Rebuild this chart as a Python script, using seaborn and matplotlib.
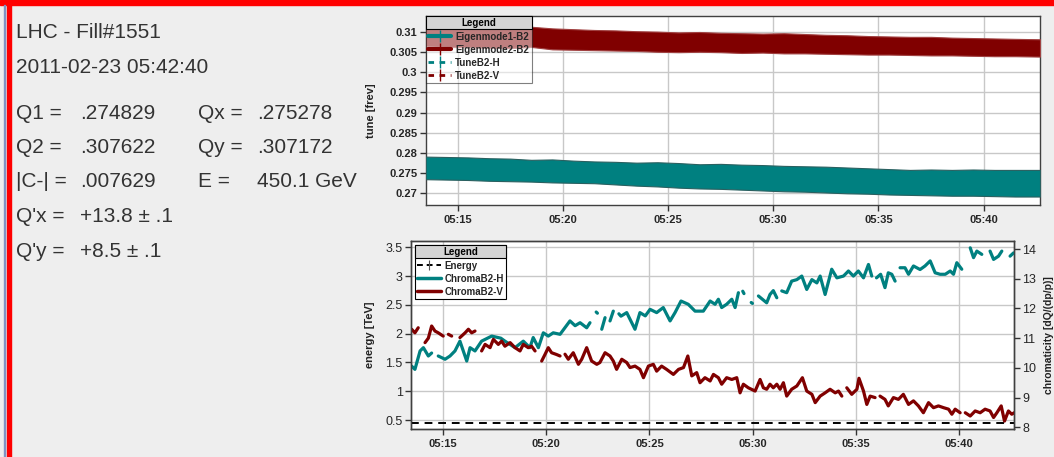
import numpy as np
import pandas as pd
import matplotlib
matplotlib.use("Agg")
import matplotlib.pyplot as plt
import matplotlib.dates as mdates
from matplotlib.lines import Line2D
from matplotlib.patches import Rectangle
import seaborn as sns

# ---------------- data ----------------
info_left = ["Q1 =", "Q2 =", "|C-| =", "Q'x =", "Q'y ="]
info_left_values = [".274829", ".307622", ".007629", "+13.8 \u00b1 .1", "+8.5 \u00b1 .1"]
info_right = ["Qx =", "Qy =", "E ="]
info_right_values = [".275278", ".307172", "450.1 GeV"]
title_lines = ["LHC - Fill#1551", "2011-02-23 05:42:40"]

# tune band envelopes (minutes after 05:00)
band_t = [13.48, 14.5, 15.5, 16.5, 17.5, 18.5, 19.5, 20.5, 21.5, 22.5, 23.5, 24.5, 25.5, 26.5, 27.5,
          28.5, 29.5, 30.5, 31.5, 32.5, 33.5, 34.5, 35.5, 36.5, 37.5, 38.5, 39.5, 40.5, 41.5, 42.68]
tune_v_top = [0.3117, 0.3116, 0.3114, 0.3115, 0.3112, 0.3113, 0.3109, 0.3107, 0.3105, 0.3104, 0.3102,
              0.3101, 0.3099, 0.3100, 0.3098, 0.3097, 0.3096, 0.3097, 0.3095, 0.3093, 0.3092, 0.3090,
              0.3089, 0.3088, 0.3088, 0.3086, 0.3085, 0.3084, 0.3083, 0.3082]
tune_v_bot = [0.3065, 0.3063, 0.3062, 0.3061, 0.3060, 0.3063, 0.3057, 0.3056, 0.3055, 0.3054, 0.3053,
              0.3051, 0.3050, 0.3051, 0.3050, 0.3048, 0.3049, 0.3047, 0.3047, 0.3046, 0.3045, 0.3044,
              0.3044, 0.3043, 0.3042, 0.3042, 0.3041, 0.3040, 0.3040, 0.3039]
tune_h_top = [0.2791, 0.2790, 0.2789, 0.2787, 0.2786, 0.2783, 0.2784, 0.2781, 0.2779, 0.2778, 0.2776,
              0.2777, 0.2775, 0.2772, 0.2773, 0.2771, 0.2770, 0.2768, 0.2767, 0.2766, 0.2764, 0.2762,
              0.2760, 0.2758, 0.2759, 0.2758, 0.2759, 0.2758, 0.2758, 0.2758]
tune_h_bot = [0.2735, 0.2734, 0.2733, 0.2731, 0.2730, 0.2729, 0.2727, 0.2726, 0.2725, 0.2722, 0.2719,
              0.2717, 0.2714, 0.2712, 0.2711, 0.2709, 0.2707, 0.2705, 0.2704, 0.2702, 0.2700, 0.2699,
              0.2697, 0.2696, 0.2695, 0.2694, 0.2694, 0.2693, 0.2692, 0.2692]

nan = np.nan
chroma_h_t = [13.48, 13.64, 13.89, 14.05, 14.29, 14.45, 14.6, 14.77, 15.10, 15.34, 15.58, 15.82, 16.15,
              16.31, 16.55, 16.87, 17.36, 17.8, 18.0, 18.49, 18.89, 19.21, 19.37, 19.62, 19.86, 20.10,
              20.34, 20.67, 21.15, 21.40, 21.64, 21.96, 22.12, 22.3, 22.42, 22.48, 22.6, 22.69, 22.85,
              22.97, 23.09, 23.25, 23.4, 23.52, 23.62, 23.9, 24.30, 24.54, 24.80, 25.03, 25.35, 25.67,
              26.00, 26.24, 26.53, 26.88, 27.21, 27.61, 27.94, 28.18, 28.34, 28.50, 28.74, 28.99, 29.15,
              29.31, 29.42, 29.52, 29.58, 29.8, 29.93, 29.99, 30.12, 30.28, 30.68, 30.84, 31.00, 31.17,
              31.3, 31.41, 31.65, 31.89, 32.14, 32.38, 32.62, 32.87, 33.11, 33.27, 33.51, 33.83, 34.08,
              34.40, 34.64, 34.88, 35.12, 35.37, 35.61, 35.77, 35.88, 36.00, 36.20, 36.41, 36.57, 36.74,
              36.90, 37.02, 37.14, 37.38, 37.55, 37.79, 38.11, 38.35, 38.60, 38.84, 39.08, 39.33, 39.57,
              39.73, 39.89, 40.13, 40.33, 40.54, 40.70, 40.86, 41.10, 41.3, 41.50, 41.67, 41.91, 42.07,
              42.27, 42.47, 42.64]
chroma_h_v = [10.06, 9.95, 10.57, 10.68, 10.40, 10.50, nan, 10.40, 10.29, 10.40, 10.57, 10.90, 10.23,
              10.68, 10.57, 10.90, 11.07, 11.0, 10.90, 10.68, 10.90, 10.68, 11.02, 10.68, 11.18, 11.07,
              11.18, 11.13, 11.58, 11.42, 11.52, 11.35, 11.52, nan, 11.88, 11.84, nan, 11.30, 11.69,
              nan, 11.58, 11.91, nan, 11.82, 11.74, 11.86, 11.30, 11.86, 11.75, 11.97, 11.86, 12.03,
              11.58, 11.86, 12.25, 12.14, 11.91, 11.91, 12.25, 12.14, 12.31, 12.03, 12.14, 12.31, 12.03,
              12.53, nan, 12.58, 12.50, nan, 12.20, 12.17, nan, 12.42, 12.19, 12.47, 12.60, 12.36,
              nan, 12.59, 12.53, 12.92, 12.97, 13.09, 12.64, 12.97, 12.86, 13.09, 12.47, 13.32, 13.03,
              13.09, 13.26, 13.09, 13.26, 13.03, 13.48, 13.09, nan, 13.03, 13.15, 12.70, 13.20, 13.15,
              12.92, nan, 13.37, 13.37, 13.15, 13.43, 13.31, 13.43, 13.60, 13.20, 13.15, 13.15, 13.26,
              13.15, 13.54, 13.32, nan, 14.04, 13.71, 13.93, 13.82, nan, 13.93, 13.65, 13.76, 13.93,
              nan, 13.76, 13.87]

chroma_v_t = [13.48, 13.64, 13.80, 13.95, 14.13, 14.29, 14.45, 14.61, 14.77, 15.01, 15.12, 15.26, 15.42,
              15.6, 15.82, 16.07, 16.23, 16.39, 16.55, 16.7, 16.87, 17.04, 17.28, 17.44, 17.68, 17.84,
              18.00, 18.25, 18.49, 18.73, 18.89, 19.13, 19.29, 19.46, 19.62, 19.78, 19.94, 20.10, 20.26,
              20.50, 20.67, 20.79, 20.91, 21.07, 21.31, 21.56, 21.72, 21.96, 22.20, 22.45, 22.60, 22.85,
              23.09, 23.25, 23.41, 23.66, 23.90, 24.06, 24.30, 24.54, 24.71, 24.95, 25.19, 25.35, 25.59,
              25.83, 26.16, 26.41, 26.65, 26.86, 27.05, 27.29, 27.45, 27.69, 27.94, 28.10, 28.34, 28.50,
              28.74, 28.99, 29.23, 29.39, 29.55, 29.79, 30.12, 30.36, 30.52, 30.68, 30.84, 31.00, 31.17,
              31.33, 31.49, 31.65, 31.89, 32.14, 32.41, 32.62, 32.87, 33.03, 33.27, 33.51, 33.75, 34.00,
              34.16, 34.32, 34.44, 34.56, 34.80, 35.05, 35.15, 35.37, 35.53, 35.69, 35.93, 36.05, 36.17,
              36.41, 36.57, 36.82, 37.06, 37.30, 37.55, 37.79, 38.03, 38.27, 38.52, 38.76, 39.00, 39.25,
              39.49, 39.65, 39.81, 40.05, 40.18, 40.30, 40.54, 40.78, 41.02, 41.26, 41.50, 41.67, 41.83,
              42.04, 42.20, 42.39, 42.55, 42.67]
chroma_v_v = [11.30, 11.18, 11.35, nan, 10.85, 11.00, 11.41, 11.24, 11.18, 11.07, nan, 11.13, 11.07,
              nan, 11.02, 11.18, 11.30, 11.18, 11.24, nan, 10.57, 10.79, 10.68, 10.96, 10.79, 10.90,
              10.73, 10.85, 10.68, 10.57, 10.79, 10.68, 10.73, 10.57, nan, 10.23, 10.45, 10.68, 10.51,
              10.45, 10.40, nan, 10.46, 10.29, 10.51, 10.12, 10.29, 10.68, 10.23, 10.12, 10.18, 10.51,
              10.40, 10.23, 9.95, 10.29, 10.18, 10.01, 10.06, 9.95, 9.67, 10.06, 10.12, 9.89, 10.06,
              9.95, 9.78, 9.95, 10.01, 10.40, 9.73, 9.84, 9.50, 9.67, 9.56, 9.78, 9.67, 9.45,
              9.67, 9.61, 9.67, 9.16, 9.45, 9.33, 9.22, 9.61, 9.33, 9.28, 9.45, 9.33, 9.45,
              9.28, 9.50, 9.05, 9.28, 9.39, 9.67, 9.22, 9.11, 8.83, 9.05, 9.16, 9.28, 9.16,
              9.22, 9.05, nan, 9.33, 9.11, 9.28, 9.65, 9.22, 8.77, 9.05, 9.00, nan, 9.05,
              8.94, 8.72, 9.00, 8.94, 9.11, 8.77, 8.89, 8.72, 8.49, 8.83, 8.66, 8.72, 8.66,
              8.61, 8.44, 8.61, 8.49, nan, 8.49, 8.38, 8.55, 8.49, 8.61, 8.55, 8.33, 8.49,
              8.72, 8.21, 8.55, 8.44, 8.49]

energy_t = [13.45, 42.66]
energy_tev = [0.4501, 0.4501]

xticks_fmt = "%H:%M"
# --------------------------------------

TEAL = "#008080"
DRED = "#800000"
BG = "#eeeeee"
BASE = pd.Timestamp("2011-02-23 05:00:00")


def to_time(m):
    return BASE + pd.to_timedelta(np.asarray(m, dtype=float), unit="min")


def seg_frame(t, v):
    df = pd.DataFrame({"time": to_time(t), "value": v})
    df["seg"] = df["value"].isna().cumsum()
    return df.dropna()


sns.set_theme(style="white")
plt.rcParams["font.family"] = ["Liberation Sans", "DejaVu Sans"]

W, H = 1054, 457
fig = plt.figure(figsize=(W / 100, H / 100), dpi=100, facecolor=BG)


def fx(x):
    return x / W


def fy(y):
    return 1 - y / H


# border decorations
fig.add_artist(Rectangle((0, fy(5)), 1, 5 / H, transform=fig.transFigure, color="#ff0000", zorder=20))
fig.add_artist(Rectangle((fx(6.7), 0), 4.3 / W, 1, transform=fig.transFigure, color="#ff0000", zorder=20))
fig.add_artist(Rectangle((fx(4), 0), 1 / W, fy(5), transform=fig.transFigure, color="#7f93c4", zorder=20))

# left info panel
TXT = dict(fontsize=15, color="#333333", va="baseline", ha="left")
fig.text(fx(16), fy(38.3), title_lines[0], **TXT)
fig.text(fx(16), fy(73), title_lines[1], **TXT)
rows_y = [119.3, 152.7, 186.7, 221.7, 256.7]
for i, y in enumerate(rows_y):
    fig.text(fx(16), fy(y), info_left[i], **TXT)
    fig.text(fx(80), fy(y), info_left_values[i], **TXT)
    if i < len(info_right):
        fig.text(fx(198), fy(y), info_right[i], **TXT)
        fig.text(fx(256.7), fy(y), info_right_values[i], **TXT)

# ---------------- top axes ----------------
ax1 = fig.add_axes([fx(425.7), fy(205), (1040 - 425.7) / W, (205 - 16) / H])
ax1.set_facecolor("white")
tb = to_time(band_t)
ax1.fill_between(tb, tune_h_bot, tune_h_top, color=TEAL, lw=0.8, edgecolor="#2a6060", zorder=3)
ax1.fill_between(tb, tune_v_bot, tune_v_top, color=DRED, lw=0.8, edgecolor="#a04040", zorder=3)
ax1.set_xlim(to_time([13.48])[0], to_time([42.68])[0])
ax1.set_ylim(0.2671, 0.31397)
ax1.set_yticks([0.27, 0.275, 0.28, 0.285, 0.29, 0.295, 0.30, 0.305, 0.31])
ax1.yaxis.set_major_formatter(matplotlib.ticker.FormatStrFormatter("%g"))
ax1.set_ylabel("tune [frev]", fontsize=8, fontweight="bold", color="#222222")
ax1.yaxis.set_label_coords((376 - 425.7) / 614.3, 0.5)

# ---------------- bottom axes ----------------
ax2 = fig.add_axes([fx(411), fy(429), (1014 - 411) / W, (429 - 241) / H])
ax2.set_facecolor("white")
edf = pd.DataFrame({"time": to_time(energy_t), "energy": energy_tev})
sns.lineplot(data=edf, x="time", y="energy", ax=ax2, color="black", lw=1.4,
             dashes=False, legend=False, zorder=3)
ax2.lines[-1].set_dashes((4, 3))
ax2.set_ylim(0.3437, 3.609)
ax2.set_yticks([0.5, 1, 1.5, 2, 2.5, 3, 3.5])
ax2.yaxis.set_major_formatter(matplotlib.ticker.FormatStrFormatter("%g"))
ax2.set_ylabel("energy [TeV]", fontsize=8, fontweight="bold", color="#222222")
ax2.yaxis.set_label_coords((375 - 411) / 603, 0.5)
ax2.set_xlim(to_time([13.45])[0], to_time([42.66])[0])

ax3 = ax2.twinx()
sns.lineplot(data=seg_frame(chroma_h_t, chroma_h_v), x="time", y="value", units="seg",
             estimator=None, ax=ax3, color=TEAL, lw=2.3, legend=False)
sns.lineplot(data=seg_frame(chroma_v_t, chroma_v_v), x="time", y="value", units="seg",
             estimator=None, ax=ax3, color=DRED, lw=2.3, legend=False)
ax3.set_ylim(7.943, 14.27)
ax3.set_yticks([8, 9, 10, 11, 12, 13, 14])
ax3.set_xlim(to_time([13.45])[0], to_time([42.66])[0])
ax3.set_ylabel("chromaticity [dQ/(dp/p)]", fontsize=7.5, fontweight="bold", color="#222222")
ax3.yaxis.set_label_coords((1043.5 - 411) / 603, 0.5)
ax3.set_xlabel("")

for ax in (ax1, ax2):
    ax.set_xlabel("")
    ax.xaxis.set_major_locator(mdates.MinuteLocator(byminute=range(0, 60, 5)))
    ax.xaxis.set_major_formatter(mdates.DateFormatter(xticks_fmt))
    ax.grid(True, color="#c8c8c8", lw=1.0)
    ax.set_axisbelow(True)
    ax.tick_params(axis="x", direction="out", length=4, width=1, color="#333333",
                   labelsize=8, pad=3, bottom=True)
    ax.tick_params(axis="y", direction="out", length=4, width=1, color="#333333", left=True,
                   labelsize=8, pad=2)
    for lab in ax.get_xticklabels():
        lab.set_fontweight("bold")
for lab in ax1.get_yticklabels():
    lab.set_fontweight("bold")
ax2.tick_params(axis="y", labelsize=9)
ax3.tick_params(axis="y", direction="out", length=4, width=1, color="#333333", right=True,
                labelsize=9, pad=2)
ax3.tick_params(axis="x", bottom=False, labelbottom=False)
for ax in (ax1, ax2, ax3):
    for sp in ax.spines.values():
        sp.set_color("#404040")
        sp.set_linewidth(1.0)

# ---------------- legends ----------------
LEGKW = dict(prop={"size": 7, "weight": "bold"}, title="Legend",
             title_fontproperties={"size": 7, "weight": "bold"}, frameon=True, fancybox=False,
             edgecolor="black", handlelength=2.4, handletextpad=0.4, labelspacing=0.32,
             borderpad=0.25, borderaxespad=0)
h_top = [
    Line2D([], [], color=TEAL, lw=3, marker="|", ms=8, mew=1.0, label="Eigenmode1-B2"),
    Line2D([], [], color=DRED, lw=3, marker="|", ms=8, mew=1.0, label="Eigenmode2-B2"),
    Line2D([], [], color=TEAL, lw=2, ls=(0, (2, 2)), marker="|", ms=8, mew=1.0, label="TuneB2-H"),
    Line2D([], [], color=DRED, lw=2, ls=(0, (2, 2)), marker="|", ms=8, mew=1.0, label="TuneB2-V"),
]
leg1 = ax1.legend(handles=h_top, loc="upper left", bbox_to_anchor=(0, 1), framealpha=0.5, **LEGKW)
leg1.get_frame().set_linewidth(0.8)
leg1.set_zorder(10)

h_bot = [
    Line2D([], [], color="black", lw=1.4, ls=(0, (3, 2)), marker="|", ms=7, mew=0.8,
           markeredgecolor="#555555", label="Energy"),
    Line2D([], [], color=TEAL, lw=2.5, label="ChromaB2-H"),
    Line2D([], [], color=DRED, lw=2.5, label="ChromaB2-V"),
]
leg2 = ax3.legend(handles=h_bot, loc="upper left", bbox_to_anchor=((415 - 411) / 603, 1 - 4 / 188),
                  framealpha=1.0, **LEGKW)
leg2.get_frame().set_linewidth(0.8)

# gray header strip for the legend titles
fig.canvas.draw()
rend = fig.canvas.get_renderer()
for leg in (leg1, leg2):
    bb = leg.get_frame().get_window_extent(rend)
    tt = leg.get_title().get_window_extent(rend)
    y0 = tt.y0 - 1
    fig.add_artist(Rectangle((bb.x0 / W, y0 / H), (bb.x1 - bb.x0) / W, (bb.y1 - y0) / H,
                             transform=fig.transFigure, facecolor="#d4d4d4", edgecolor="black",
                             lw=0.8, zorder=15))
    fig.text((bb.x0 + bb.x1) / 2 / W, (y0 + bb.y1) / 2 / H, "Legend", ha="center", va="center",
             fontsize=7, fontweight="bold", color="black", zorder=16)

fig.savefig("out.png", dpi=100, facecolor=BG)
